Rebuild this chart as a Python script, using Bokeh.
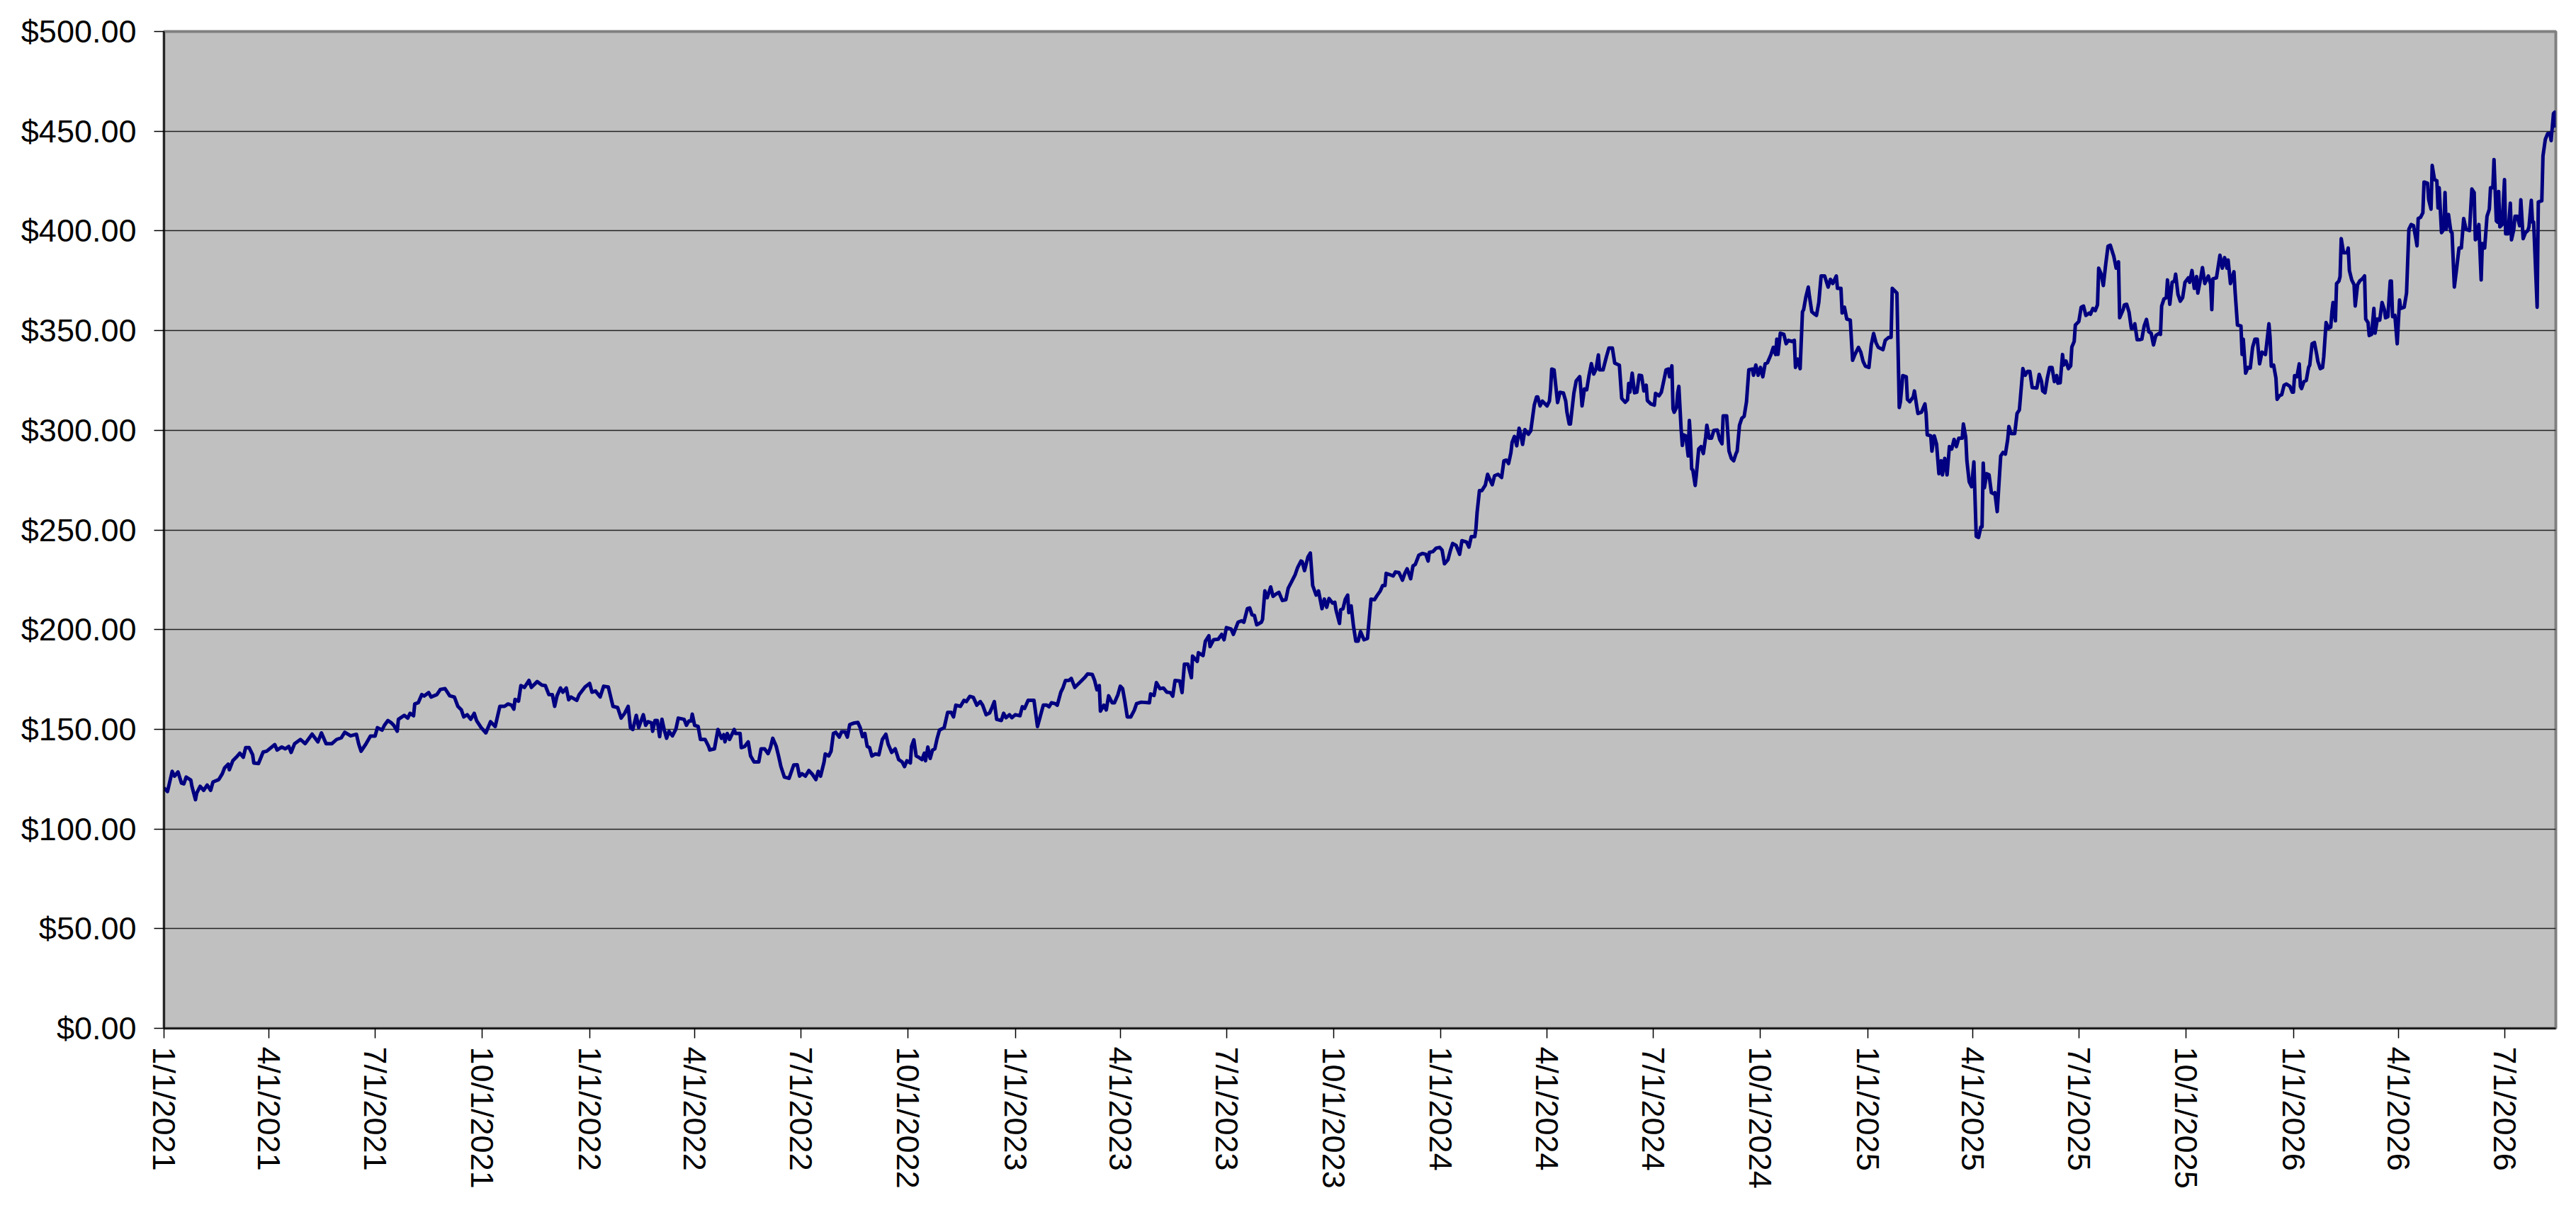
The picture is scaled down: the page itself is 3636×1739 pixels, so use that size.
import pandas as pd
from bokeh.plotting import figure
from bokeh.models import (Range1d, FixedTicker, NumeralTickFormatter,
                          CustomJSTickFormatter, ColumnDataSource)
from bokeh.embed import file_html
from bokeh.resources import INLINE

# ---------------- data ----------------
START_DATE = "2021-01-01"

# (days since START_DATE, price in $)
seg_2021 = [(0,120.6),(3,118.8),(7,128.9),(9,126.5),(12,128.6),(15,123.0),(17,122.6),(19,126.0),(23,124.5),(24,121.2),(27,114.7),(28,117.9),(31,121.4),(34,119.4),(37,122.0),(40,119.4),(42,123.6),(47,124.8),(50,127.7),(52,130.7),(55,132.5),(56,129.7),(59,134.2),(62,136.0),(65,138.0),(68,136.0),(70,140.8),(73,140.8),(76,137.2),(77,133.1),(81,132.8),(85,138.6),(88,139.0),(95,142.3),(97,139.6),(101,141.1),(104,140.2),(107,141.4),(109,138.4),(112,142.8),(117,144.9),(121,142.8),(127,147.6),(132,143.7),(135,148.2),(139,142.8),(144,142.8),(148,144.9),(152,145.7),(155,148.5),(160,146.7),(165,147.5),(167,142.5),(169,139.0),(173,142.5),(177,146.6),(181,146.6),(183,150.8),(187,149.6),(189,152.0),(192,154.4),(195,153.2),(197,152.0),(200,149.0),(201,155.0),(206,157.0),(209,155.6),(211,158.0),(214,156.8),(215,162.7),(218,163.3),(221,167.4),(223,166.7),(227,168.4),(229,166.2),(234,167.4),(237,170.0),(241,170.4),(245,166.8),(249,166.2),(252,161.5),(255,159.7),(257,156.2),(260,157.3),(263,155.0),(266,158.0),(268,154.4),(272,150.8),(276,148.2),(280,153.8),(284,151.4),(288,161.5),(292,161.5),(295,162.7),(298,162.1),(300,160.1),(301,165.0),(304,164.1),(306,171.9),(309,171.0),(313,174.5),(315,171.0),(320,173.9),(324,172.2),(327,171.9),(330,167.4),(333,167.4),(335,161.5),(337,166.8),(340,170.7),(342,168.6),(345,170.7),(347,164.8),(349,166.2),(354,164.5),(356,167.4),(361,171.2),(365,173.0),(367,168.6),(370,169.2),(374,166.2),(377,171.6),(381,171.2),(385,161.5),(389,160.9),(392,155.6),(395,158.0),(398,161.5),(400,150.8),(402,149.9),(405,157.0)]

seg_2022 = [(407,150.8),(411,157.3),(413,152.0),(415,153.8),(418,153.2),(419,149.0),(421,154.4),(423,154.4),(425,146.3),(427,155.0),(429,149.6),(431,145.5),(433,149.0),(436,146.7),(439,150.2),(441,155.6),(446,155.0),(448,152.0),(450,154.1),(452,154.1),(453,157.6),(455,152.0),(458,151.4),(460,144.9),(464,144.9),(467,141.4),(468,139.6),(472,140.2),(475,149.9),(478,145.5),(480,147.3),(481,143.7),(483,147.9),(485,144.9),(489,149.9),(490,147.9),(494,147.9),(495,140.8),(498,141.4),(501,143.7),(503,136.6),(506,133.6),(510,133.6),(512,140.2),(515,140.2),(518,137.8),(520,140.8),(522,145.5),(525,141.4),(527,136.6),(529,131.3),(532,126.0),(536,125.4),(540,132.1),(543,132.2),(545,126.5),(547,127.7),(550,126.5),(553,129.3),(556,127.4),(559,124.8),(561,128.9),(563,126.5),(566,133.6),(567,137.6),(570,136.6),(572,139.0),(574,147.9),(576,148.5),(579,146.1),(581,148.7),(584,148.7),(586,146.1),(588,152.3),(592,153.2),(595,153.4),(597,150.8),(599,146.3),(601,147.9),(603,141.4),(605,140.8),(607,136.6),(610,137.6),(613,137.2),(616,144.9),(619,147.5),(621,142.5),(624,138.4),(627,140.2),(630,134.8),(633,133.6),(635,131.3),(637,134.2),(640,133.1),(641,141.4),(643,144.7),(645,136.6),(647,136.0),(650,134.8),(652,138.0),(653,134.2),(655,141.1),(657,135.4),(659,139.6),(661,140.2),(663,145.5),(665,149.6),(669,150.8),(672,158.5),(675,158.5),(677,156.2),(679,162.1),(683,161.5),(686,164.5),(688,163.9),(691,166.5),(694,166.0),(697,162.1),(700,163.9),(702,162.1),(705,157.3),(708,158.2),(710,160.9),(712,163.9),(714,155.0),(718,154.4),(720,158.0),(722,155.8),(725,157.3),(727,155.8),(730,157.3),(734,156.8),(736,161.3),(738,160.5),(741,164.5),(746,164.5),(749,151.4),(751,155.6),(754,162.1),(757,162.1),(759,161.3),(761,163.3),(764,162.9),(766,162.1),(769,168.6),(771,171.0),(773,174.5),(776,174.5),(778,175.5),(781,171.0),(785,173.3),(787,174.5),(790,176.3),(792,177.8),(796,177.5),(798,174.5),(800,169.8),(802,171.9),(803,159.1),(806,162.1),(808,159.7),(810,166.8),(813,163.3),(815,163.3),(818,167.4),(820,171.6),(822,170.4),(824,163.9),(826,156.2),(829,156.2)]

seg_2023 = [(832,159.5),(834,162.9),(838,163.6),(845,163.3),(846,167.7),(849,167.0),(851,173.4),(854,170.4),(857,170.7),(860,168.6),(863,168.4),(865,166.6),(867,174.5),(871,174.2),(873,168.4),(875,182.7),(878,182.7),(881,175.9),(882,186.7),(886,184.0),(887,188.4),(891,187.0),(893,194.2),(896,196.9),(897,191.5),(900,194.9),(904,195.2),(907,197.6),(909,194.9),(911,201.0),(915,200.3),(917,197.6),(921,203.7),(924,204.4),(926,203.7),(929,210.5),(931,210.9),(933,207.4),(935,207.1),(937,202.4),(941,203.7),(942,205.1),(944,219.4),(946,216.0),(949,221.4),(951,216.7),(954,218.0),(956,218.7),(959,214.6),(962,215.0),(964,220.7),(967,224.1),(970,227.6),(972,231.0),(975,234.4),(976,234.1),(978,229.6),(981,236.5),(983,238.4),(985,222.1),(988,217.3),(990,219.4),(993,210.5),(995,215.3),(997,211.2),(999,215.6),(1002,213.3),(1004,213.7),(1005,209.9),(1008,203.1),(1009,209.9),(1011,210.5),(1013,215.3),(1015,217.3),(1016,208.5),(1018,211.9),(1020,201.7),(1022,194.2),(1024,194.2),(1026,199.0),(1029,194.9),(1032,195.6),(1035,215.3),(1038,215.0),(1040,216.9),(1043,219.4),(1045,222.1),(1047,222.1),(1048,228.2),(1051,227.6),(1054,226.9),(1056,228.9),(1059,228.6),(1062,224.8),(1064,228.2),(1066,230.5),(1069,225.5),(1071,231.9),(1073,232.7),(1076,237.3),(1079,238.2),(1082,237.8),(1084,234.4),(1085,238.7),(1088,239.1),(1091,240.9),(1094,241.2),(1096,239.8),(1098,233.0),(1101,235.0),(1103,239.5),(1105,243.2),(1108,242.2),(1111,237.8),(1113,244.6),(1117,243.9),(1119,241.4),(1121,246.6),(1124,246.6),(1125,250.7),(1126,258.8),(1128,269.7),(1130,269.7),(1133,272.4),(1135,277.9),(1137,275.2),(1139,272.7),(1141,277.2),(1144,277.9),(1147,276.3),(1149,284.7),(1151,285.0),(1153,283.3),(1155,288.8),(1156,293.9),(1158,296.9),(1160,292.2),(1162,301.0),(1163,299.0),(1165,292.9),(1167,300.3),(1170,298.0),(1172,299.7),(1175,312.6),(1177,316.7),(1178,316.7),(1180,312.2),(1182,314.6),(1186,312.2),(1188,314.6),(1189,320.7),(1190,330.7),(1192,330.3),(1195,313.9),(1197,319.0),(1200,318.7),(1202,314.6),(1203,309.2),(1205,303.1),(1206,303.1),(1209,318.7),(1211,324.8),(1214,326.9),(1215,320.1),(1216,312.2),(1218,320.7),(1220,320.3),(1222,327.6),(1224,333.4),(1226,328.2),(1228,330.7),(1230,337.8),(1231,330.3),(1234,330.3),(1237,337.1),(1239,341.2),(1242,341.2),(1244,333.7),(1248,332.6),(1250,316.0),(1253,314.0),(1255,315.3),(1256,323.5)]

seg_2024 = [(1257,319.1),(1259,328.6),(1261,318.8),(1263,319.1),(1265,327.6),(1267,327.4),(1269,319.7),(1271,322.6),(1272,314.9),(1275,313.2),(1278,312.6),(1279,318.5),(1282,317.3),(1284,319.1),(1287,327.4),(1288,330.3),(1290,330.7),(1291,326.8),(1293,332.3),(1294,310.8),(1295,309.0),(1297,311.4),(1298,318.8),(1299,322.0),(1301,300.1),(1302,292.4),(1303,297.7),(1305,297.2),(1307,287.1),(1308,304.9),(1309,295.4),(1310,280.6),(1311,280.0),(1313,272.3),(1314,277.6),(1316,290.6),(1318,291.8),(1320,288.3),(1322,296.6),(1323,302.5),(1325,296.0),(1327,296.0),(1329,299.9),(1332,300.1),(1334,295.4),(1336,293.2),(1337,307.2),(1340,307.2),(1342,289.5),(1344,285.9),(1346,284.7),(1348,288.3),(1349,289.5),(1351,302.5),(1353,306.0),(1355,307.0),(1357,314.3),(1359,330.3),(1362,330.7),(1363,327.6),(1365,332.7),(1367,327.6),(1369,331.5),(1371,326.8),(1373,333.3),(1375,333.9),(1378,338.0),(1380,341.6),(1382,338.0),(1383,345.7),(1384,338.0),(1386,348.7),(1389,348.1),(1391,343.4),(1393,345.1),(1396,344.5),(1398,345.1),(1399,331.5),(1401,335.7),(1403,330.9),(1405,359.4),(1406,360.5),(1408,367.1),(1410,371.8),(1411,367.1),(1413,359.4),(1415,358.4),(1417,357.6),(1419,364.1),(1421,377.4),(1424,377.4),(1427,371.8),(1429,375.7),(1431,373.6),(1434,377.4),(1435,371.2),(1438,371.2),(1439,358.8),(1441,361.7),(1443,355.8),(1446,355.2),(1448,335.1),(1450,338.0),(1453,341.6),(1455,339.2),(1457,334.5),(1459,332.1),(1462,331.5),(1464,342.8),(1466,348.5),(1468,344.0),(1470,341.6),(1474,340.4),(1476,345.1),(1479,346.6),(1481,346.6),(1482,371.2),(1485,369.4),(1486,368.8),(1488,311.4),(1489,314.3),(1491,327.4),(1494,326.8),(1495,315.5),(1497,314.3),(1500,316.7),(1501,319.7),(1503,312.0),(1504,308.4),(1507,309.0),(1510,313.2),(1511,308.4),(1512,297.7),(1515,297.2),(1516,289.5),(1518,297.2),(1520,293.0),(1522,278.2),(1524,284.7),(1525,277.6),(1527,285.9),(1529,277.6),(1531,291.8),(1533,290.6),(1535,295.4),(1537,291.8),(1539,296.0),(1542,296.0),(1543,303.1),(1545,296.6),(1546,284.7),(1548,274.1),(1550,271.7),(1552,284.1),(1554,246.8),(1556,246.2),(1558,251.5),(1559,251.5),(1560,283.5),(1561,271.1),(1563,278.2),(1565,277.6),(1567,268.7),(1569,268.1),(1570,268.7),(1572,259.2),(1575,287.1),(1577,288.9),(1579,288.0),(1581,295.4),(1582,301.9),(1584,298.3),(1587,298.3),(1589,308.4),(1591,310.2),(1594,330.9),(1596,327.6),(1598,329.5),(1600,329.5),(1602,321.4),(1606,321.2),(1608,328.0),(1610,324.4),(1611,319.7),(1613,318.8),(1615,326.2),(1617,331.5),(1619,331.5),(1621,324.4),(1623,327.4),(1624,323.6),(1626,323.8),(1628,338.0),(1629,332.7),(1631,334.7),(1633,330.9),(1635,332.3),(1636,341.8),(1638,344.5),(1639,352.8),(1642,354.6),(1644,361.7),(1646,362.3),(1648,357.6),(1651,358.8)]

seg_2025 = [(1652,358.2),(1654,361.1),(1656,360.0),(1658,362.9),(1659,381.3),(1661,378.6),(1663,372.6),(1665,383.1),(1667,392.3),(1669,392.8),(1671,389.0),(1672,387.2),(1674,381.3),(1676,384.5),(1677,356.4),(1680,360.5),(1681,362.9),(1683,363.2),(1685,359.4),(1687,351.1),(1689,351.3),(1690,353.4),(1692,345.4),(1694,345.4),(1696,345.7),(1698,352.3),(1700,355.6),(1702,349.4),(1704,348.7),(1706,342.8),(1708,347.5),(1711,348.7),(1712,348.1),(1713,362.3),(1715,365.9),(1717,366.5),(1718,375.4),(1720,363.2),(1722,374.2),(1724,374.8),(1725,378.3),(1727,368.2),(1729,364.7),(1731,366.5),(1733,374.2),(1736,376.5),(1737,374.2),(1739,380.1),(1741,371.2),(1743,377.1),(1744,368.8),(1746,374.8),(1748,381.6),(1750,373.6),(1753,377.4),(1755,373.3),(1756,360.5),(1757,375.9),(1760,376.5),(1763,387.8),(1765,381.3),(1767,386.6),(1769,381.3),(1770,385.4),(1772,373.6),(1775,379.5),(1776,369.4),(1778,352.8),(1781,352.3),(1782,338.0),(1783,345.7),(1785,328.6),(1787,331.5),(1789,331.2),(1791,341.6),(1793,345.7),(1795,345.7),(1797,333.3),(1799,339.2),(1802,338.0),(1803,342.8),(1805,353.4),(1806,346.3),(1807,332.1),(1809,332.7),(1811,326.2),(1812,315.5),(1814,317.3),(1816,317.9),(1818,322.6),(1820,323.2),(1823,322.0),(1825,319.1),(1826,319.1),(1827,327.4),(1829,326.8),(1831,333.3),(1832,322.0),(1833,320.9),(1835,324.4),(1837,325.0),(1839,331.5),(1840,332.7),(1842,343.4),(1844,344.0),(1846,338.0),(1847,334.5),(1849,330.9),(1851,331.5),(1852,336.8),(1854,354.0),(1856,351.1),(1858,351.7),(1859,359.4),(1860,364.1),(1862,354.9),(1863,373.6),(1865,374.8),(1866,377.1),(1867,396.1),(1869,389.0),(1872,389.0),(1873,391.4),(1874,380.1),(1876,375.4),(1878,373.0),(1879,362.3),(1881,373.0),(1883,375.0),(1885,375.9),(1887,377.4),(1888,355.8),(1890,354.0),(1891,347.5),(1893,348.1),(1895,361.1),(1896,348.7),(1898,355.8),(1900,355.2),(1902,364.1),(1904,360.5),(1905,356.4),(1907,357.0),(1909,374.8),(1910,374.8),(1911,357.0),(1913,357.6),(1915,343.4)]

seg_2026 = [(1917,365.3),(1918,361.1),(1921,361.7),(1923,368.8),(1925,400.8),(1927,403.2),(1929,402.6),(1931,396.1),(1932,392.5),(1933,406.2),(1935,406.8),(1937,409.1),(1938,424.5),(1941,423.9),(1942,415.6),(1944,410.9),(1945,432.8),(1947,425.7),(1949,425.1),(1950,411.5),(1951,421.6),(1953,399.1),(1955,400.8),(1956,419.2),(1957,400.8),(1959,408.2),(1961,399.6),(1962,399.1),(1964,371.8),(1966,381.3),(1968,391.4),(1970,391.4),(1972,406.2),(1974,400.8),(1977,400.2),(1979,421.0),(1981,419.2),(1982,395.5),(1983,396.1),(1985,403.2),(1987,375.4),(1988,393.7),(1990,391.4),(1992,407.3),(1994,410.9),(1995,421.6),(1997,421.6),(1998,435.8),(2000,405.0),(2001,404.4),(2002,419.8),(2003,402.0),(2005,403.2),(2007,425.7),(2008,398.5),(2010,398.5),(2012,413.9),(2013,395.5),(2015,400.8),(2016,407.3),(2018,407.3),(2020,402.6),(2021,415.6),(2023,396.1),(2025,399.1),(2027,400.2),(2028,402.0),(2030,415.3),(2031,404.4),(2032,404.4),(2035,361.7),(2036,414.5),(2039,415.1),(2040,437.6),(2042,445.9),(2044,448.8),(2046,448.8),(2047,445.3),(2049,458.9),(2050,459.5),(2051,451.8)]

x_tick_dates = ["2021-01-01", "2021-04-01", "2021-07-01", "2021-10-01",
                "2022-01-01", "2022-04-01", "2022-07-01", "2022-10-01",
                "2023-01-01", "2023-04-01", "2023-07-01", "2023-10-01",
                "2024-01-01", "2024-04-01", "2024-07-01", "2024-10-01",
                "2025-01-01", "2025-04-01", "2025-07-01", "2025-10-01",
                "2026-01-01", "2026-04-01", "2026-07-01"]
y_ticks = [0, 50, 100, 150, 200, 250, 300, 350, 400, 450, 500]

# ---------------- build ----------------
series = seg_2021 + seg_2022 + seg_2023 + seg_2024 + seg_2025 + seg_2026
day_offsets = [d for d, _ in series]
prices = [v for _, v in series]
dates = pd.Timestamp(START_DATE) + pd.to_timedelta(day_offsets, unit="D")

src = ColumnDataSource(data=dict(date=dates, price=prices))

FONT = "Liberation Sans"

p = figure(width=3628, height=1731, x_axis_type="datetime",
           output_backend="svg", toolbar_location=None,
           x_range=Range1d(dates.min().to_pydatetime(), dates.max().to_pydatetime()),
           y_range=Range1d(min(y_ticks), max(y_ticks)),
           min_border_left=231, min_border_right=21,
           min_border_top=44, min_border_bottom=280)

p.background_fill_color = "#C0C0C0"
p.border_fill_color = "white"
p.outline_line_color = "#808080"
p.outline_line_width = 4

p.xgrid.visible = False
p.ygrid.ticker = FixedTicker(ticks=y_ticks)
p.ygrid.grid_line_color = "#222222"
p.ygrid.grid_line_width = 1.5

tick_ms = [int(pd.Timestamp(d).value // 10**6) for d in x_tick_dates]
p.xaxis.ticker = FixedTicker(ticks=tick_ms)
p.xaxis.formatter = CustomJSTickFormatter(code="""
    const d = new Date(tick);
    return (d.getUTCMonth() + 1) + '/' + d.getUTCDate() + '/' + d.getUTCFullYear();
""")
p.xaxis.major_label_orientation = "vertical"
p.xaxis.major_label_standoff = 12

p.yaxis.ticker = FixedTicker(ticks=y_ticks)
p.yaxis.formatter = NumeralTickFormatter(format="$0.00")
p.yaxis.major_label_standoff = 25

for ax in (p.xaxis[0], p.yaxis[0]):
    ax.axis_line_color = "#000000"
    ax.axis_line_width = 2
    ax.major_tick_line_color = "#000000"
    ax.major_tick_line_width = 1.5
    ax.major_tick_out = 14
    ax.major_tick_in = 0
    ax.minor_tick_out = 0
    ax.minor_tick_in = 0
    ax.major_label_text_font = FONT
    ax.major_label_text_font_size = "45px"
    ax.major_label_text_color = "#000000"

p.line(x="date", y="price", source=src, line_color="#000080",
       line_width=5, line_join="round")

open("out.html", "w").write(file_html(p, INLINE))
